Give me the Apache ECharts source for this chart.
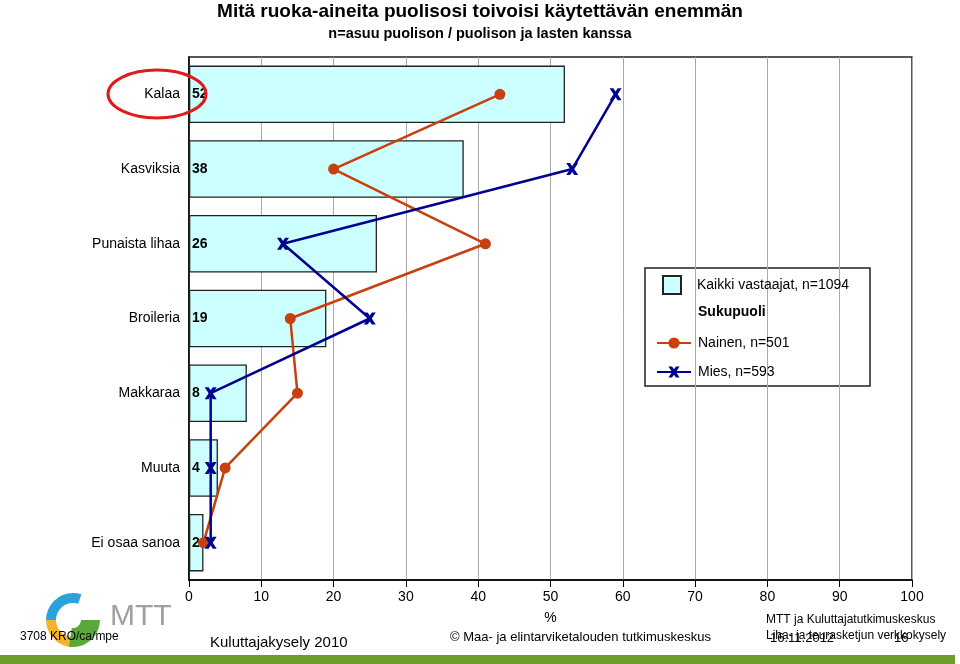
<!DOCTYPE html>
<html><head><meta charset="utf-8">
<script src="https://cdn.jsdelivr.net/npm/echarts@6/dist/echarts.min.js"></script>
<style>html,body{margin:0;padding:0;background:#fff}#c{width:960px;height:664px}</style>
</head><body><div id="c"></div>
<script>
const categories = ['Kalaa','Kasviksia','Punaista lihaa','Broileria','Makkaraa','Muuta','Ei osaa sanoa'];
const kaikki = [52,38,26,19,8,4,2];
const nainen = [43,20,41,14,15,5,2];
const mies = [59,53,13,25,3,3,3];
const xTicks = {min:0,max:100,interval:10};

const F = '"Liberation Sans", Arial, sans-serif';
const xPath = 'path://M0,0 L3.2,0 L5,2.6 L6.8,0 L10,0 L6.7,5 L10,10 L6.8,10 L5,7.4 L3.2,10 L0,10 L3.3,5 Z';
const chart = echarts.init(document.getElementById('c'));
chart.setOption({
  animation:false,
  textStyle:{fontFamily:F},
  grid:{left:189,right:48,top:57,bottom:84,show:true,borderColor:'#222',borderWidth:1.5,backgroundColor:'transparent'},
  xAxis:{type:'value',min:xTicks.min,max:xTicks.max,interval:xTicks.interval,
    name:'%',nameLocation:'middle',nameGap:31,nameTextStyle:{fontSize:14,color:'#000',fontFamily:F},
    axisLine:{show:true,lineStyle:{color:'#000',width:1.5}},
    axisTick:{show:true,length:7,lineStyle:{color:'#000'}},
    axisLabel:{fontSize:14,color:'#000',margin:10,fontFamily:F},
    splitLine:{show:true,lineStyle:{color:'#aaa',width:1}}},
  yAxis:{type:'category',data:categories,inverse:true,
    axisLine:{show:true,lineStyle:{color:'#000',width:1.5}},
    axisTick:{show:false},
    axisLabel:{fontSize:14,color:'#000',margin:9,fontFamily:F}},
  legend:[
    {data:[{name:'Kaikki vastaajat, n=1094',icon:'rect'}],orient:'vertical',left:657,top:270,itemWidth:18,itemHeight:18,
     textStyle:{fontSize:14,color:'#000',padding:[0,0,0,11],fontFamily:F}},
    {data:['Nainen, n=501','Mies, n=593'],orient:'vertical',left:651,top:331,itemWidth:34,itemHeight:14,itemGap:15,
     textStyle:{fontSize:14,color:'#000',padding:[0,0,0,2],fontFamily:F}}
  ],
  series:[
    {name:'Kaikki vastaajat, n=1094',type:'bar',data:kaikki,barCategoryGap:'23%',
     itemStyle:{color:'#ccffff',borderColor:'#222',borderWidth:1.3},
     label:{show:true,position:'insideLeft',offset:[-1,0],distance:4,fontWeight:'bold',fontSize:14,color:'#000',fontFamily:F}},
    {name:'Nainen, n=501',type:'line',data:nainen,symbol:'circle',symbolSize:11,
     lineStyle:{color:'#c8400f',width:2.5},itemStyle:{color:'#c8400f'},z:3},
    {name:'Mies, n=593',type:'line',data:mies,symbol:xPath,symbolSize:12,
     lineStyle:{color:'#000090',width:2.5},itemStyle:{color:'#000090'},z:4}
  ],
  graphic:[
    {type:'text',left:'center',top:2,style:{text:'Mitä ruoka-aineita puolisosi toivoisi käytettävän enemmän',font:'bold 19px '+F,fill:'#000'}},
    {type:'text',left:'center',top:26,style:{text:'n=asuu puolison / puolison ja lasten kanssa',font:'bold 14.5px '+F,fill:'#000'}},
    {type:'ellipse',shape:{cx:157,cy:94,rx:49,ry:24},style:{fill:'none',stroke:'#e01b1b',lineWidth:3},z:10},
    {type:'rect',shape:{x:645,y:268,width:225,height:118},style:{fill:'#fff',stroke:'#222',lineWidth:1.5},z:0,zlevel:0},
    {type:'text',left:698,top:305,style:{text:'Sukupuoli',font:'bold 14px '+F,fill:'#000'},z:10},
    // footer
    {type:'rect',shape:{x:0,y:655,width:955,height:9},style:{fill:'#6c9d2b'}},
    {type:'sector',shape:{cx:73,cy:620,r:27,r0:17,startAngle:Math.PI*1.0,endAngle:Math.PI*1.6},style:{fill:'#2aa3dc'}},
    {type:'sector',shape:{cx:73,cy:620,r:27,r0:17,startAngle:Math.PI*0.55,endAngle:Math.PI*1.0},style:{fill:'#f3b32a'}},
    {type:'sector',shape:{cx:73,cy:620,r:27,r0:8,startAngle:Math.PI*0.0,endAngle:Math.PI*0.55},style:{fill:'#5aa83a'}},
    {type:'text',left:110,top:602,style:{text:'MTT',font:'30px '+F,fill:'#a0a0a0'}},
    {type:'text',left:20,top:631,style:{text:'3708 KRO/ca/mpe',font:'12px '+F,fill:'#000'}},
    {type:'text',left:210,top:635,style:{text:'Kuluttajakysely 2010',font:'15px '+F,fill:'#000'}},
    {type:'text',left:450,top:631,style:{text:'© Maa- ja elintarviketalouden tutkimuskeskus',font:'13px '+F,fill:'#000'}},
    {type:'text',left:766,top:614,style:{text:'MTT ja Kuluttajatutkimuskeskus',font:'12px '+F,fill:'#000'}},
    {type:'text',left:770,top:632,style:{text:'16.11.2012',font:'13px '+F,fill:'#000'}},
    {type:'text',left:894,top:632,style:{text:'16',font:'13px '+F,fill:'#000'}},
    {type:'text',left:766,top:630,style:{text:'Liha- ja teurasketjun verkkokysely',font:'12px '+F,fill:'#000'}}
  ]
});
</script></body></html>
